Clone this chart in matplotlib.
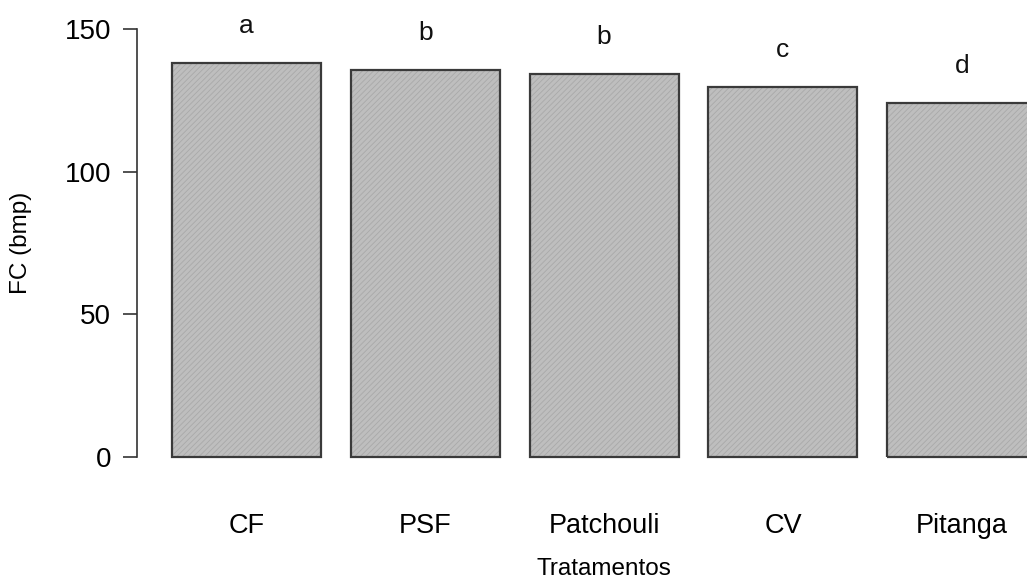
import matplotlib.pyplot as plt
import numpy as np

plt.rcParams['font.family'] = ['Liberation Sans', 'DejaVu Sans']
plt.rcParams['hatch.linewidth'] = 0.6

# data
tratamentos = ['CF', 'PSF', 'Patchouli', 'CV', 'Pitanga']
fc_bmp = [138.1, 135.6, 134.2, 129.7, 124.1]
letras = ['a', 'b', 'b', 'c', 'd']
yticks = [0, 50, 100, 150]

fig = plt.figure(figsize=(10.27, 5.8), dpi=100)
# R barplot style region (runs off the right edge like the original)
ax = fig.add_axes([0.1338, 0.1826, 0.9089, 0.7969])

x = 0.7 + 1.2*np.arange(len(tratamentos))  # width 1, space 0.2
#shaded fill, then outline on top
ax.bar(x, fc_bmp, width=1.0, color='#bebebe', edgecolor='#a9a9a9', hatch='//////', linewidth=0)
ax.bar(x, fc_bmp, width=1.0, fill=False, edgecolor='#3a3a3a', linewidth=1.6)

for xi, v, l in zip(x, fc_bmp, letras):
    ax.text(xi, v + 10.5, l, ha='center', va='baseline', fontsize=19, color='#111111')

ax.set_xlim(-0.032, 6.232)
ax.set_ylim(-6, 156)

for s in ['top', 'right', 'bottom']:
    ax.spines[s].set_visible(False)
ax.spines['left'].set_bounds(0, 150)
ax.spines['left'].set_color('#333333')
ax.spines['left'].set_linewidth(1.2)

ax.set_yticks(yticks)
ax.tick_params(axis='y', direction='out', length=10, width=1.2, color='#333333',
               labelsize=20, pad=9)
ax.set_xticks(x)
ax.set_xticklabels(tratamentos)
ax.tick_params(axis='x', length=0, labelsize=19.5, pad=28)

ax.set_xlabel('Tratamentos', fontsize=17.5, labelpad=14)
fig.text(21/1027, 1 - 243/580, 'FC (bmp)', rotation=90, ha='center', va='center', fontsize=17.5)

fig.savefig('out.png', dpi=100)
